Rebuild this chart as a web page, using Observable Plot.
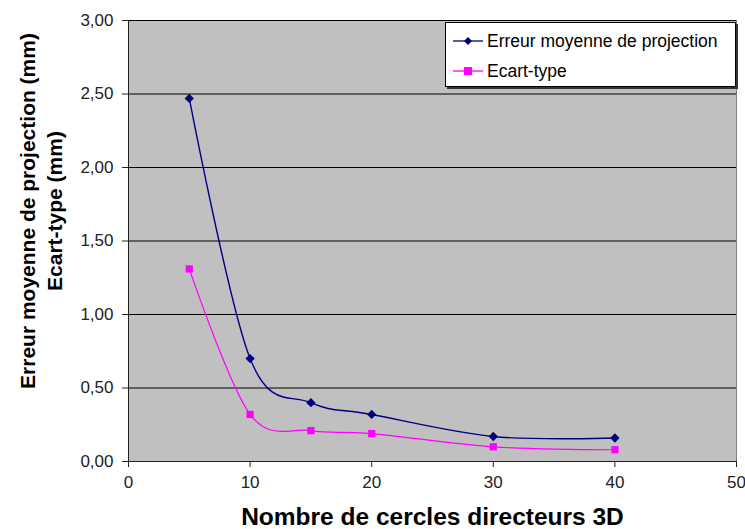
<!DOCTYPE html>
<html>
<head>
<meta charset="utf-8">
<script src="https://cdn.jsdelivr.net/npm/d3@7"></script>
<script src="https://cdn.jsdelivr.net/npm/@observablehq/plot@0.6"></script>
<style>
  html, body { margin: 0; padding: 0; background: #fff; }
  #wrap { position: relative; width: 745px; height: 529px; font-family: "Liberation Sans", Arial, sans-serif; }
  #legend { position: absolute; left: 445px; top: 22px; width: 289px; height: 63px; background: #fff;
            border: 1px solid #000; box-shadow: 2px 2px 0 #333; font-size: 17.5px; color: #000; }
  .row { position: absolute; left: 0; height: 20px; display: flex; align-items: center; }
  .row svg { margin-left: 7px; margin-right: 4px; }
</style>
</head>
<body>
<div id="wrap"></div>
<script>
const nombre = [5, 10, 15, 20, 30, 40];
const erreurMoyenne = [2.47, 0.70, 0.40, 0.32, 0.17, 0.16];
const ecartType = [1.31, 0.32, 0.21, 0.19, 0.10, 0.08];
const seriesNames = ["Erreur moyenne de projection", "Ecart-type"];
const seriesColors = ["#000080", "#ff00ff"];
const xTicks = [0, 10, 20, 30, 40, 50];
const yTicks = [0, 0.5, 1, 1.5, 2, 2.5, 3];
const xLabel = "Nombre de cercles directeurs 3D";
const yLabel = "Erreur moyenne de projection (mm)\nEcart-type (mm)";

const fmt = d => d.toFixed(2).replace(".", ",");
const s1 = nombre.map((x, i) => ({x, y: erreurMoyenne[i]}));
const s2 = nombre.map((x, i) => ({x, y: ecartType[i]}));

const chart = Plot.plot({
  width: 745,
  height: 529,
  marginLeft: 128,
  marginRight: 9,
  marginTop: 20,
  marginBottom: 68,
  style: {fontFamily: "'Liberation Sans', Arial, sans-serif", background: "#fff"},
  x: {domain: [0, 50]},
  y: {domain: [0, 3]},
  marks: [
    Plot.frame({fill: "#c0c0c0", stroke: "#808080"}),
    Plot.gridY(yTicks, {stroke: "#000", strokeOpacity: 1, strokeWidth: 1}),
    Plot.axisY(yTicks, {tickFormat: fmt, tickSize: 6, tickPadding: 9, fontSize: 17, fill: "#222", stroke: "#222", label: null}),
    Plot.axisX(xTicks, {tickSize: 6, tickPadding: 8, fontSize: 17, fill: "#222", stroke: "#222", label: null}),
    Plot.ruleY([0], {stroke: "#222"}),
    Plot.ruleX([0], {stroke: "#222"}),
    Plot.line(s1, {x: "x", y: "y", stroke: seriesColors[0], strokeWidth: 1.4, curve: "cardinal"}),
    Plot.line(s2, {x: "x", y: "y", stroke: seriesColors[1], strokeWidth: 1.2, curve: "cardinal"}),
    Plot.dot(s1, {x: "x", y: "y", symbol: "diamond2", r: 4.2, fill: seriesColors[0], stroke: "none"}),
    Plot.dot(s2, {x: "x", y: "y", symbol: "square2", r: 4.6, fill: seriesColors[1], stroke: "none"}),
    Plot.text([xLabel], {frameAnchor: "bottom", textAnchor: "middle", dy: 63, fontSize: 24.5, fontWeight: "bold", fill: "#000"}),
    Plot.text([yLabel], {frameAnchor: "left", textAnchor: "middle", rotate: -90, dx: -89, dy: -30, fontSize: 21, fontWeight: "bold", lineHeight: 1.3, fill: "#000"})
  ]
});

const wrap = document.getElementById("wrap");
wrap.appendChild(chart);

const legend = document.createElement("div");
legend.id = "legend";
const rowTops = [8, 38];
seriesNames.forEach((name, i) => {
  const row = document.createElement("div");
  row.className = "row";
  row.style.top = rowTops[i] + "px";
  const marker = i === 0
    ? `<polygon points="15,6 19,10 15,14 11,10" fill="${seriesColors[i]}"/>`
    : `<rect x="11" y="6" width="8" height="8" fill="${seriesColors[i]}"/>`;
  row.innerHTML = `<svg width="30" height="20"><line x1="0" y1="10" x2="30" y2="10" stroke="${seriesColors[i]}" stroke-width="1.3"/>${marker}</svg><span>${name}</span>`;
  legend.appendChild(row);
});
wrap.appendChild(legend);
</script>
</body>
</html>
